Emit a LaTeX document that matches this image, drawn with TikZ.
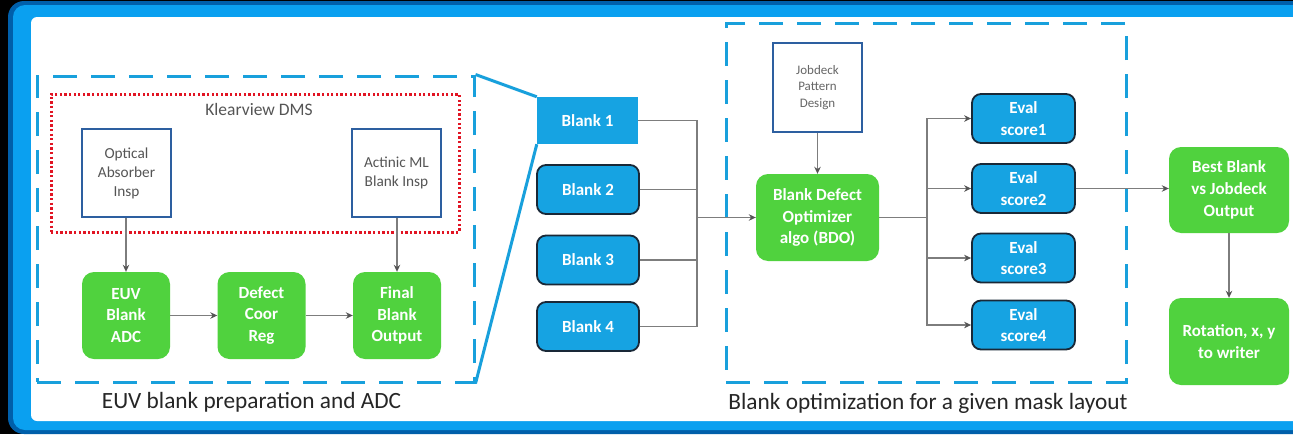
\documentclass[tikz,border=0pt]{standalone}
\usepackage{fontspec}
\setmainfont{Carlito}
\usetikzlibrary{arrows.meta}
\definecolor{bluefill}{RGB}{22,163,226}
\definecolor{greenfill}{RGB}{80,210,62}
\definecolor{dashblue}{RGB}{24,160,220}
\definecolor{darkedge}{RGB}{25,40,55}
\definecolor{boxedge}{RGB}{45,95,160}
\definecolor{conngray}{RGB}{125,125,125}
\definecolor{tipgray}{RGB}{85,85,85}
\definecolor{txtgray}{RGB}{85,85,85}
\definecolor{dotred}{RGB}{225,20,35}
\definecolor{frameouter}{RGB}{0,95,170}
\definecolor{frameinner}{RGB}{10,160,240}
\tikzset{
  greenbox/.style={fill=greenfill, rounded corners=12pt, text=white,
    font=\bfseries\fontsize{17}{21.7}\selectfont, align=center, inner sep=0pt},
  bluebox/.style={fill=bluefill, draw=darkedge, line width=1.8pt, rounded corners=9pt,
    text=white, font=\bfseries\fontsize{17}{21.7}\selectfont, align=center,
    minimum width=102pt, minimum height=49pt, inner sep=0pt},
  whitebox/.style={draw=boxedge, line width=2pt, fill=white, text=txtgray,
    font=\fontsize{15.3}{19}\selectfont, align=center, inner sep=0pt},
  conn/.style={draw=conngray, line width=1.2pt},
  arr/.style={conn, -{Stealth[length=7pt,width=6.5pt,color=tipgray]}},
  dbox/.style={draw=dashblue, line width=3pt, dash pattern=on 24pt off 14pt, inner sep=0pt},
  reddots/.style={draw=dotred, line width=3pt, dash pattern=on 2.3pt off 2.3pt, inner sep=0pt},
  zoomline/.style={draw=dashblue, line width=3pt},
  caption/.style={text=black!85, font=\fontsize{23.3}{28}\selectfont, inner sep=0pt}
}
\begin{document}
\begin{tikzpicture}[x=1pt,y=-1pt]
\useasboundingbox (0,0) rectangle (1293,434);
% frame
\fill[black] (0,0) rectangle (1293,434);
\fill[frameouter, rounded corners=16pt] (8,1) rectangle (1330,434);
\fill[frameinner, rounded corners=12pt] (13,5) rectangle (1330,430);
\fill[white, rounded corners=6pt] (31,17) rectangle (1330,421);

% group boxes
\node[dbox, minimum width=437pt, minimum height=306pt] (prep) at (255.5,229) {};
\node[dbox, minimum width=400pt, minimum height=359pt] (opt) at (926,202.5) {};
\node[reddots, minimum width=408pt, minimum height=138pt] (dms) at (255,163) {};
\node[text=txtgray, font=\fontsize{17.5}{21}\selectfont, inner sep=0pt] (dmslabel) at (259,109) {Klearview DMS};

% left part
\node[whitebox, minimum width=89pt, minimum height=88pt] (optical) at (126.5,173) {Optical\\Absorber\\Insp};
\node[whitebox, minimum width=89pt, minimum height=88pt] (actinic) at (396.5,173) {Actinic ML\\Blank Insp};
\node[greenbox, minimum width=88pt, minimum height=87pt] (euv) at (126,315.5) {EUV\\Blank\\ADC};
\node[greenbox, minimum width=88pt, minimum height=87pt] (defect) at (261.5,315.5) {Defect\\Coor\\Reg};
\node[greenbox, minimum width=88pt, minimum height=87pt] (final) at (397,315.5) {Final\\Blank\\Output};
\draw[arr] (optical.south -| euv.north) -- (euv.north);
\draw[arr] (actinic.south -| final.north) -- (final.north);
\draw[arr] (euv.east) -- (defect.west);
\draw[arr] (defect.east) -- (final.west);
\node[caption] (cap1) at (251.5,402) {EUV blank preparation and ADC};

% blanks
\node[fill=bluefill, text=white, font=\bfseries\fontsize{17}{21.7}\selectfont,
  minimum width=101pt, minimum height=47pt, inner sep=0pt] (b1) at (587.5,120.5) {Blank 1};
\draw[zoomline] (prep.north east) -- (b1.north west);
\draw[zoomline] (prep.south east) -- (b1.south west);
\node[bluebox] (b2) at (588,189.5) {Blank 2};
\node[bluebox] (b3) at (588,260) {Blank 3};
\node[bluebox] (b4) at (588,326.5) {Blank 4};

% optimizer
\node[whitebox, minimum width=89pt, minimum height=89pt, text=black!60,
  font=\fontsize{13}{16.7}\selectfont] (job) at (817.5,87.5) {Jobdeck\\Pattern\\Design};
\node[greenbox, minimum width=123pt, minimum height=87pt] (bdo) at (817.5,217.5) {Blank Defect\\Optimizer\\algo (BDO)};
\coordinate (j1) at (697,217.5);
\coordinate (j2) at (927,217.5);
\draw[conn] (b1.east) -| (j1);
\draw[conn] (b2.east) -| (j1);
\draw[conn] (b3.east) -| (j1);
\draw[conn] (b4.east) -| (j1);
\draw[arr] (j1) -- (bdo.west);
\draw[arr] (job.south) -- (bdo.north);

\node[bluebox, minimum width=103pt] (e1) at (1023.5,118.5) {Eval\\score1};
\node[bluebox, minimum width=103pt] (e2) at (1023.5,188.5) {Eval\\score2};
\node[bluebox, minimum width=103pt] (e3) at (1023.5,258) {Eval\\score3};
\node[bluebox, minimum width=103pt] (e4) at (1023.5,325) {Eval\\score4};
\draw[conn] (bdo.east) -- (j2);
\draw[arr] (j2) |- (e1.west);
\draw[arr] (j2) |- (e2.west);
\draw[arr] (j2) |- (e3.west);
\draw[arr] (j2) |- (e4.west);
\node[caption] (cap2) at (928,403) {Blank optimization for a given mask layout};

% outputs
\node[greenbox, minimum width=120pt, minimum height=86pt] (best) at (1229,190) {Best Blank\\vs Jobdeck\\Output};
\node[greenbox, minimum width=120pt, minimum height=87pt] (rot) at (1229,341.5) {Rotation, x, y\\to writer};
\draw[arr] (e2.east) -- (e2.east -| best.west);
\draw[arr] (best.south) -- (rot.north);
\end{tikzpicture}
\end{document}
